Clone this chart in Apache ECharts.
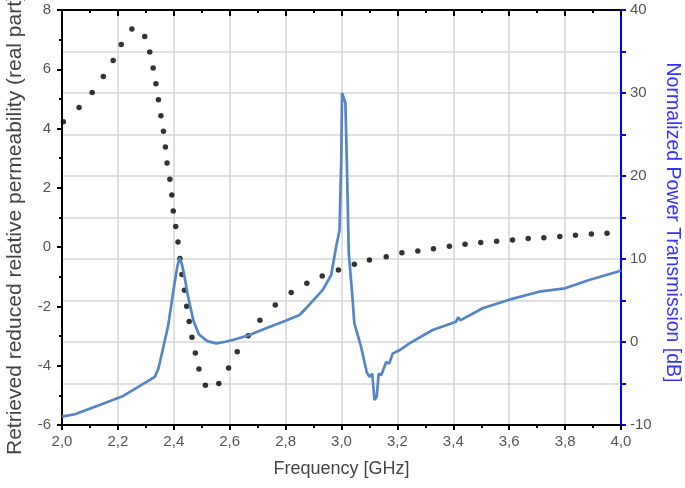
<!DOCTYPE html>
<html>
<head>
<meta charset="utf-8">
<script src="https://cdn.jsdelivr.net/npm/echarts@6/dist/echarts.min.js"></script>
<style>
  html, body { margin: 0; padding: 0; background: #fff; }
  #chart { width: 685px; height: 488px; }
</style>
</head>
<body>
<div id="chart"></div>
<script>
// permeability (real part), dotted curve - one entry per dot
const freqDots = [
  2.005, 2.061, 2.108, 2.148, 2.183, 2.212, 2.250, 2.296, 2.314, 2.326,
  2.336, 2.345, 2.354, 2.363, 2.370, 2.376, 2.386, 2.393, 2.398, 2.407,
  2.415, 2.422, 2.429, 2.438, 2.446, 2.455, 2.465, 2.477, 2.490, 2.513,
  2.561, 2.596, 2.627, 2.666, 2.708, 2.763, 2.820, 2.876, 2.931, 2.989,
  3.046, 3.100, 3.160, 3.216, 3.273, 3.329, 3.386, 3.442, 3.498, 3.555,
  3.612, 3.668, 3.724, 3.781, 3.837, 3.894, 3.950
];
const permeability = [
  4.23, 4.71, 5.22, 5.76, 6.30, 6.84, 7.36, 7.11, 6.58, 6.04,
  5.51, 4.97, 4.43, 3.91, 3.38, 2.84, 2.29, 1.76, 1.22, 0.70,
  0.17, -0.38, -0.92, -1.45, -1.99, -2.51, -3.04, -3.57, -4.11, -4.66,
  -4.60, -4.08, -3.53, -2.99, -2.47, -1.95, -1.53, -1.22, -0.97, -0.77,
  -0.58, -0.43, -0.32, -0.19, -0.13, -0.05, 0.03, 0.10, 0.16, 0.20,
  0.24, 0.29, 0.32, 0.36, 0.40, 0.44, 0.47
];

// normalized power transmission [dB], solid blue curve
const freqLine = [
  2.000, 2.046, 2.118, 2.219, 2.273, 2.332, 2.345, 2.360, 2.380, 2.400,
  2.412, 2.420, 2.428, 2.436, 2.451, 2.470, 2.490, 2.520, 2.552, 2.580,
  2.611, 2.671, 2.730, 2.800, 2.850, 2.873, 2.933, 2.963, 2.981, 2.993,
  2.999, 3.002, 3.007, 3.014, 3.019, 3.026, 3.038, 3.046, 3.070, 3.090,
  3.100, 3.110, 3.118, 3.126, 3.133, 3.142, 3.160, 3.171, 3.183, 3.207,
  3.243, 3.326, 3.410, 3.418, 3.425, 3.505, 3.600, 3.707, 3.800, 3.886,
  3.987, 4.000
];
const transmission = [
  -9.0, -8.7, -7.8, -6.5, -5.4, -4.2, -3.2, -1.0, 2.0, 6.5,
  9.0, 10.1, 9.5, 8.3, 5.5, 2.6, 0.9, 0.1, -0.16, 0.0,
  0.24, 0.84, 1.65, 2.55, 3.25, 4.06, 6.27, 8.07, 11.5, 13.5,
  21.9, 30.0, 30.2, 28.8, 21.9, 10.7, 5.9, 2.25, -0.57, -3.6,
  -4.2, -3.8, -7.0, -6.6, -3.8, -4.0, -2.4, -2.6, -1.4, -1.0,
  -0.16, 1.45, 2.45, 3.0, 2.6, 4.06, 5.1, 6.06, 6.47, 7.47,
  8.47, 8.6
];

const font = "'Liberation Sans', Arial, sans-serif";
const black = '#000';
const blue = '#0000ff';
const gridGray = '#d6d6d6';

const chart = echarts.init(document.getElementById('chart'));

const commaFmt = v => v.toFixed(1).replace('.', ',');

const option = {
  animation: false,
  backgroundColor: '#fff',
  grid: { left: 62, right: 64, top: 10, bottom: 63, containLabel: false, outerBoundsMode: 'none' },
  xAxis: [
    {
      type: 'value', min: 2, max: 4, interval: 0.2, position: 'bottom',
      name: 'Frequency [GHz]', nameLocation: 'middle', nameGap: 35,
      nameTextStyle: { fontFamily: font, fontSize: 18, color: '#444' },
      axisLine: { onZero: false, lineStyle: { color: black, width: 2 } },
      axisTick: { length: 5, lineStyle: { color: black, width: 2 } },
      minorTick: { show: true, splitNumber: 2, length: 3, lineStyle: { color: black, width: 2 } },
      axisLabel: { formatter: commaFmt, fontFamily: font, fontSize: 15, color: '#555', margin: 9 },
      splitLine: { show: true, lineStyle: { color: gridGray, width: 1.5 } }
    },
    {
      type: 'value', min: 2, max: 4, interval: 0.2, position: 'top',
      axisLine: { onZero: false, lineStyle: { color: black, width: 2 } },
      axisTick: { inside: true, length: 6, lineStyle: { color: black, width: 2 } },
      minorTick: { show: true, splitNumber: 2, length: 3, lineStyle: { color: black, width: 2 } },
      axisLabel: { show: false },
      splitLine: { show: false }
    }
  ],
  yAxis: [
    {
      type: 'value', min: -6, max: 8, interval: 2, position: 'left',
      name: 'Retrieved reduced relative permeability (real part)',
      nameLocation: 'middle', nameGap: 36,
      nameTextStyle: { fontFamily: font, fontSize: 21, color: '#444', padding: [0, 14, 0, 0] },
      axisLine: { show: true, onZero: false, lineStyle: { color: black, width: 2 } },
      axisTick: { show: true, length: 5, lineStyle: { color: black, width: 2 } },
      minorTick: { show: true, splitNumber: 2, length: 3, lineStyle: { color: black, width: 2 } },
      axisLabel: { fontFamily: font, fontSize: 15, color: '#555', margin: 11 },
      splitLine: { show: false }
    },
    {
      type: 'value', min: -10, max: 40, interval: 10, position: 'right',
      name: 'Normalized Power Transmission [dB]',
      nameLocation: 'middle', nameGap: 38, nameRotate: -90,
      nameTextStyle: { fontFamily: font, fontSize: 19.5, color: '#3535ff', padding: [0, 0, 0, 10] },
      axisLine: { show: true, onZero: false, lineStyle: { color: blue, width: 2 } },
      axisTick: { show: true, length: 5, lineStyle: { color: blue, width: 2 } },
      minorTick: { show: true, splitNumber: 2, length: 5, lineStyle: { color: blue, width: 2 } },
      axisLabel: { fontFamily: font, fontSize: 15, color: '#555', margin: 9 },
      splitLine: { show: true, lineStyle: { color: gridGray, width: 1.5 } },
      minorSplitLine: { show: true, lineStyle: { color: gridGray, width: 1.5 } }
    }
  ],
  series: [
    {
      name: 'permeability',
      type: 'scatter',
      xAxisIndex: 0,
      yAxisIndex: 0,
      symbol: 'circle',
      symbolSize: 5.5,
      itemStyle: { color: '#000' },
      z: 2,
      data: freqDots.map((f, i) => [f, permeability[i]])
    },
    {
      name: 'transmission',
      type: 'line',
      xAxisIndex: 0,
      yAxisIndex: 1,
      showSymbol: false,
      lineStyle: { color: '#5585c5', width: 2.7 },
      z: 3,
      data: freqLine.map((f, i) => [f, transmission[i]])
    }
  ]
};

chart.setOption(option);
</script>
</body>
</html>
